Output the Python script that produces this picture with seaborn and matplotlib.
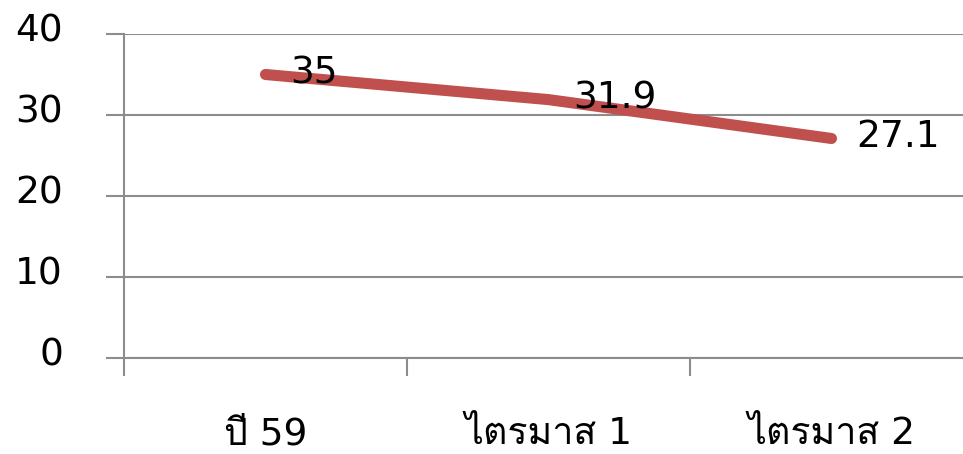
import matplotlib
matplotlib.use("Agg")
import matplotlib.pyplot as plt
from matplotlib import font_manager
from matplotlib.transforms import ScaledTranslation
import seaborn as sns
import pandas as pd

categories = ["ปี 59", "ไตรมาส 1", "ไตรมาส 2"]
values = [35, 31.9, 27.1]
y_ticks = [0, 10, 20, 30, 40]


def thai_family():
    """Return the name of an installed family that covers Thai script."""
    try:
        from fontTools.ttLib import TTFont
    except ImportError:
        return None
    for fe in font_manager.fontManager.ttflist:
        try:
            tt = TTFont(fe.fname, fontNumber=0, lazy=True)
            cmap = tt.getBestCmap() or {}
            if 0x0E44 in cmap and 0x0E15 in cmap:
                return fe.name
        except Exception:
            continue
    return None


sns.set_theme(style="white")
thai = thai_family()
families = ["DejaVu Sans"] + ([thai] if thai else [])
plt.rcParams["font.family"] = families
plt.rcParams["text.color"] = "black"
plt.rcParams["xtick.color"] = "black"
plt.rcParams["ytick.color"] = "black"

W, H = 963, 454
fig = plt.figure(figsize=(W / 100, H / 100), dpi=100)
left, right, top, bottom = 124, 973, 34, 358
ax = fig.add_axes([left / W, 1 - bottom / H, (right - left) / W, (bottom - top) / H])

df = pd.DataFrame({"cat": categories, "val": values, "x": range(len(categories))})
grid_c = "#8c8c8c"
line_c = "#C0504D"

sns.lineplot(data=df, x="x", y="val", ax=ax, color=line_c, linewidth=8,
             solid_capstyle="round", legend=False)

for xi, v in zip(df["x"], df["val"]):
    ax.annotate(f"{v:g}", (xi, v), xytext=(18, 1), textcoords="offset points",
                ha="left", va="center", fontsize=27, color="black")

ax.set_xlim(-0.5, len(categories) - 0.5)
ax.set_ylim(y_ticks[0], y_ticks[-1])
ax.set_yticks(y_ticks)
ax.set_yticklabels([str(t) for t in y_ticks])
ax.set_xticks(list(df["x"]))
ax.set_xticklabels(categories)
ax.set_xticks([i - 0.5 for i in range(len(categories) + 1)], minor=True)

ax.grid(False)
for t in y_ticks:
    ax.axhline(t, color=grid_c, linewidth=1.5, zorder=0)

for side in ["top", "right"]:
    ax.spines[side].set_visible(False)
ax.spines["left"].set_color(grid_c)
ax.spines["left"].set_linewidth(1.5)
ax.spines["bottom"].set_color(grid_c)
ax.spines["bottom"].set_linewidth(1.5)

ax.tick_params(axis="y", which="major", direction="out", length=13, width=1.5,
               color=grid_c, labelcolor="black", pad=31, labelsize=27, left=True)
ax.tick_params(axis="x", which="major", length=0, pad=42, labelsize=27,
               labelcolor="black")
ax.tick_params(axis="x", which="minor", direction="out", length=13, width=1.5,
               color=grid_c, bottom=True)
ax.set_xlabel("")
ax.set_ylabel("")

for lab in ax.get_yticklabels():
    lab.set_transform(lab.get_transform() + ScaledTranslation(0, 5 / 72, fig.dpi_scale_trans))

fig.savefig("out.png", dpi=100, facecolor="white")
